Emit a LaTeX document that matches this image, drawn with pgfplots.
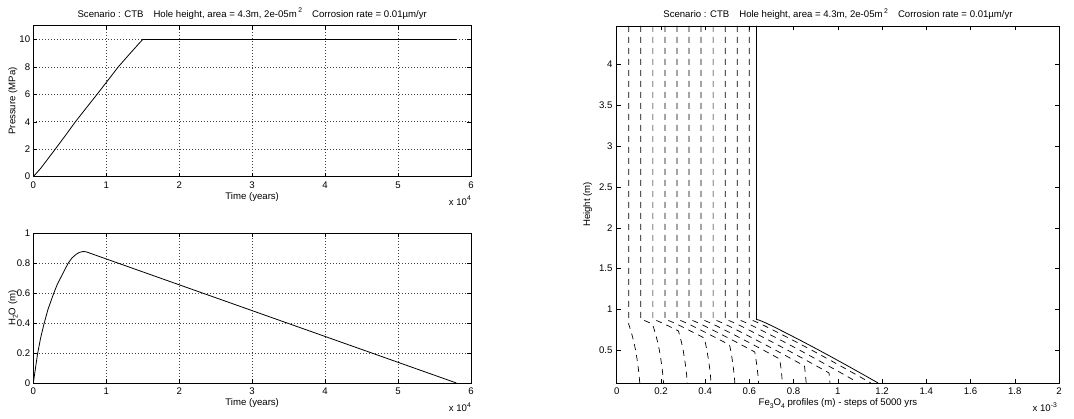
\documentclass[border=0pt]{standalone}
\usepackage{pgfplots}
\pgfplotsset{compat=1.18}
\usepackage{fontspec}
\setmainfont{Liberation Sans}
\newcommand{\fs}{\fontsize{9.6}{11}\selectfont}
\newcommand{\sub}[1]{\raisebox{-0.45ex}{\fontsize{6.8}{7}\selectfont #1}}
\newcommand{\sups}[1]{\raisebox{0.9ex}{\fontsize{6.8}{7}\selectfont #1}}
\pgfplotsset{
  mat/.style={
    scale only axis,
    axis line style={line width=0.75pt, black},
    tick align=inside, major tick length=4pt,
    tick style={line width=0.5pt, black},
    every tick label/.append style={font=\fs},
    xticklabel style={anchor=base, inner sep=0pt, yshift=-12pt},
    yticklabel style={anchor=east, inner sep=0pt, xshift=-3pt},
    clip=true,
  },
  matgrid/.style={
    grid=major,
    major grid style={line width=0.6pt, black!75, dash pattern=on 0.7pt off 2.3pt},
  },
  prof/.style={line width=0.7pt, black, dash pattern=on 6pt off 5pt},
}
\begin{document}
\begin{tikzpicture}
\useasboundingbox (0,0) rectangle (1074pt,419pt);

% ---------------- top left: pressure
\begin{axis}[mat, matgrid,
  at={(33.3pt,242.3pt)}, anchor=south west,
  width=437.7pt, height=151pt,
  xmin=0, xmax=6, ymin=0, ymax=11,
  xtick={0,1,2,3,4,5,6}, xticklabels={0,1,2,3,4,5,6},
  ytick={0,2,4,6,8,10}, yticklabels={0,2,4,6,8,10},
]
\addplot[line width=0.8pt, black] coordinates {
(0,0) (0.1,0.6) (0.2,1.3) (0.3,2) (0.44,3) (0.577,4) (0.725,5) (0.874,6) (1.02,7) (1.165,8) (1.33,9) (1.5,10) (5.8,10)
};
\end{axis}

% ---------------- bottom left: H2O
\begin{axis}[mat, matgrid,
  at={(33.3pt,36pt)}, anchor=south west,
  width=437.7pt, height=149.7pt,
  xmin=0, xmax=6, ymin=0, ymax=1,
  xtick={0,1,2,3,4,5,6}, xticklabels={0,1,2,3,4,5,6},
  ytick={0,0.2,0.4,0.6,0.8,1}, yticklabels={0,0.2,0.4,0.6,0.8,1},
]
\addplot[line width=0.8pt, black] coordinates {
(0,0) (0.02,0.066) (0.058,0.193) (0.1,0.3) (0.146,0.393) (0.2,0.49) (0.279,0.598) (0.33,0.66) (0.389,0.716) (0.44,0.765) (0.478,0.8) (0.53,0.835) (0.588,0.86) (0.63,0.872) (0.677,0.878) (0.72,0.877) (5.8,0)
};
\end{axis}

% ---------------- right: Fe3O4 profiles
\begin{axis}[mat,
  at={(616.7pt,36pt)}, anchor=south west,
  width=442.3pt, height=357pt,
  xmin=0, xmax=2, ymin=0.1, ymax=4.47,
  xtick={0,0.2,0.4,0.6,0.8,1,1.2,1.4,1.6,1.8,2},
  xticklabels={0,0.2,0.4,0.6,0.8,1,1.2,1.4,1.6,1.8,2},
  ytick={0.5,1,1.5,2,2.5,3,3.5,4},
  yticklabels={0.5,1,1.5,2,2.5,3,3.5,4},
  yticklabel style={xshift=-1pt},
]
\addplot[prof] coordinates {(0.0545,4.47) (0.0545,0.8148) (0.0568,0.8) (0.0625,0.75) (0.0681,0.7) (0.0778,0.6) (0.0855,0.5) (0.0916,0.4) (0.0969,0.3) (0.1011,0.2) (0.1043,0.1)};
\addplot[prof] coordinates {(0.109,4.47) (0.109,0.878) (0.1197,0.87) (0.1296,0.86) (0.1382,0.85) (0.1608,0.8226) (0.1643,0.8) (0.17,0.75) (0.1756,0.7) (0.1853,0.6) (0.193,0.5) (0.1991,0.4) (0.2044,0.3) (0.2086,0.2) (0.2118,0.1)};
\addplot[prof] coordinates {(0.1635,4.47) (0.1635,0.878) (0.1742,0.87) (0.1841,0.86) (0.1927,0.85) (0.2096,0.83) (0.2328,0.8) (0.2694,0.75) (0.279,0.7369) (0.2831,0.7) (0.2928,0.6) (0.3005,0.5) (0.3066,0.4) (0.3119,0.3) (0.3161,0.2) (0.3193,0.1)};
\addplot[prof] coordinates {(0.218,4.47) (0.218,0.878) (0.2287,0.87) (0.2386,0.86) (0.2472,0.85) (0.2641,0.83) (0.2873,0.8) (0.3239,0.75) (0.3604,0.7) (0.3953,0.6512) (0.4003,0.6) (0.408,0.5) (0.4141,0.4) (0.4194,0.3) (0.4236,0.2) (0.4268,0.1)};
\addplot[prof] coordinates {(0.2725,4.47) (0.2725,0.878) (0.2832,0.87) (0.2931,0.86) (0.3017,0.85) (0.3186,0.83) (0.3418,0.8) (0.3784,0.75) (0.4149,0.7) (0.4864,0.6) (0.5104,0.5655) (0.5155,0.5) (0.5216,0.4) (0.5269,0.3) (0.5311,0.2) (0.5343,0.1)};
\addplot[prof] coordinates {(0.327,4.47) (0.327,0.878) (0.3377,0.87) (0.3476,0.86) (0.3562,0.85) (0.3731,0.83) (0.3963,0.8) (0.4329,0.75) (0.4694,0.7) (0.5409,0.6) (0.6106,0.5) (0.6243,0.4798) (0.6291,0.4) (0.6344,0.3) (0.6386,0.2) (0.6418,0.1)};
\addplot[prof] coordinates {(0.3815,4.47) (0.3815,0.878) (0.3922,0.87) (0.4021,0.86) (0.4107,0.85) (0.4276,0.83) (0.4508,0.8) (0.4874,0.75) (0.5239,0.7) (0.5954,0.6) (0.6651,0.5) (0.733,0.4) (0.7369,0.3941) (0.7419,0.3) (0.7461,0.2) (0.7493,0.1)};
\addplot[prof] coordinates {(0.436,4.47) (0.436,0.878) (0.4467,0.87) (0.4566,0.86) (0.4652,0.85) (0.4821,0.83) (0.5053,0.8) (0.5419,0.75) (0.5784,0.7) (0.6499,0.6) (0.7196,0.5) (0.7875,0.4) (0.849,0.3084) (0.8494,0.3) (0.8536,0.2) (0.8568,0.1)};
\addplot[prof] coordinates {(0.4905,4.47) (0.4905,0.878) (0.5012,0.87) (0.5111,0.86) (0.5197,0.85) (0.5366,0.83) (0.5598,0.8) (0.5964,0.75) (0.6329,0.7) (0.7044,0.6) (0.7741,0.5) (0.842,0.4) (0.9091,0.3) (0.9601,0.2227) (0.9611,0.2) (0.9643,0.1)};
\addplot[prof] coordinates {(0.545,4.47) (0.545,0.878) (0.5557,0.87) (0.5656,0.86) (0.5742,0.85) (0.5911,0.83) (0.6143,0.8) (0.6509,0.75) (0.6874,0.7) (0.7589,0.6) (0.8286,0.5) (0.8965,0.4) (0.9636,0.3) (1.0296,0.2) (1.0706,0.137) (1.0718,0.1)};
\addplot[prof] coordinates {(0.5995,4.47) (0.5995,0.878) (0.6102,0.87) (0.6201,0.86) (0.6287,0.85) (0.6456,0.83) (0.6688,0.8) (0.7054,0.75) (0.7419,0.7) (0.8134,0.6) (0.8831,0.5) (0.951,0.4) (1.0181,0.3) (1.0841,0.2) (1.1492,0.1)};
\addplot[line width=0.8pt, black] coordinates {(0.6322,4.47) (0.6322,0.878) (0.6429,0.87) (0.6528,0.86) (0.6614,0.85) (0.6783,0.83) (0.7015,0.8) (0.7381,0.75) (0.7746,0.7) (0.8461,0.6) (0.9158,0.5) (0.9837,0.4) (1.0508,0.3) (1.1168,0.2) (1.1819,0.1)};
\end{axis}

% ---------------- titles and labels
\node[anchor=base, inner sep=0pt, font=\fs] at (252.2pt,401.7pt)
  {Scenario : CTB\hspace{10pt}Hole height, area = 4.3m, 2e-05m\,\sups{2}\hspace{10pt}Corrosion rate = 0.01µm/yr};
\node[anchor=base, inner sep=0pt, font=\fs] at (838pt,401pt)
  {Scenario : CTB\hspace{10pt}Hole height, area = 4.3m, 2e-05m\,\sups{2}\hspace{10pt}Corrosion rate = 0.01µm/yr};
\node[anchor=base, inner sep=0pt, font=\fs] at (252.2pt,219.5pt) {Time (years)};
\node[anchor=base, inner sep=0pt, font=\fs] at (252.2pt,13.2pt) {Time (years)};
\node[anchor=base, inner sep=0pt, font=\fs] at (838pt,13.2pt) {Fe\sub{3}O\sub{4} profiles (m) - steps of 5000 yrs};
\node[anchor=base east, inner sep=0pt, font=\fs] at (471pt,213.5pt) {x 10\sups{4}};
\node[anchor=base east, inner sep=0pt, font=\fs] at (471pt,7.2pt) {x 10\sups{4}};
\node[anchor=base east, inner sep=0pt, font=\fs] at (1057pt,7.2pt) {x 10\sups{-3}};
\node[anchor=base, rotate=90, inner sep=0pt, font=\fs] at (15.3pt,318pt) {Pressure (MPa)};
\node[anchor=base, rotate=90, inner sep=0pt, font=\fs] at (15.3pt,110.8pt) {H\sub{2}O (m)};
\node[anchor=base, rotate=90, inner sep=0pt, font=\fs] at (590pt,214.5pt) {Height (m)};
\end{tikzpicture}
\end{document}
